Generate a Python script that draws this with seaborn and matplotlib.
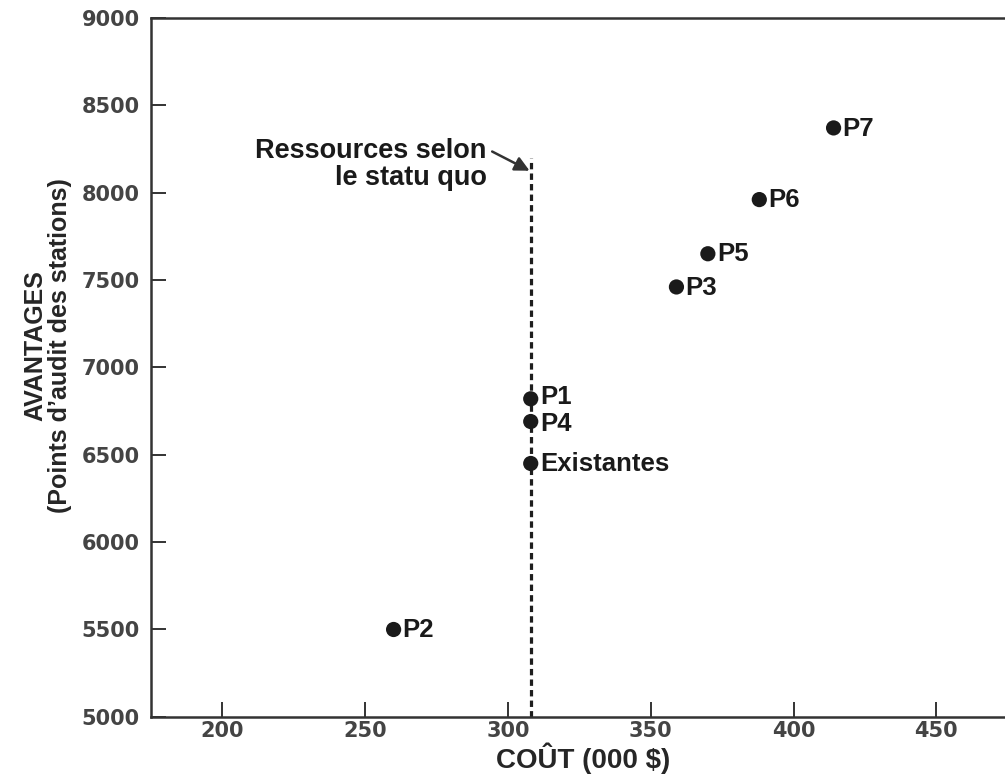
import matplotlib
matplotlib.use("Agg")
import matplotlib.pyplot as plt
import pandas as pd
import seaborn as sns

# data
labels = ["P1", "P2", "P3", "P4", "P5", "P6", "P7", "Existantes"]
cost = [308, 260, 359, 308, 370, 388, 414, 308]
benefit = [6820, 5500, 7460, 6690, 7650, 7960, 8370, 6450]

status_quo_cost = 308
status_quo_top = 8200

x_ticks = [200, 250, 300, 350, 400, 450]
y_ticks = [5000, 5500, 6000, 6500, 7000, 7500, 8000, 8500, 9000]

sns.set_style("ticks")
plt.rcParams['font.family'] = ['Liberation Sans', 'DejaVu Sans']

df = pd.DataFrame({"Cout": cost, "Avantages": benefit, "Label": labels})

fig = plt.figure(figsize=(10.05, 7.75), dpi=100)
ax = fig.add_axes([0.150, 0.075, 0.85, 0.902])

# status quo line
ax.plot([status_quo_cost, status_quo_cost], [5000, status_quo_top],
        color="#1e1e1e", lw=2.3, ls=(0, (2.0, 1.3)), zorder=1)

sns.scatterplot(data=df, x="Cout", y="Avantages", color="#1a1a1a",
                s=120, edgecolor="none", ax=ax, zorder=3)

# small vertical nudges so the close P1 / P4 labels don't collide
nudge = {"P1": 1.5, "P4": -1.5}
for lab, xv, yv in zip(labels, cost, benefit):
    ax.annotate(lab, (xv, yv), xytext=(6.5, nudge.get(lab, 0) - 0.5),
                textcoords="offset points", ha="left", va="center",
                fontsize=18.5, fontweight="bold", color="#1a1a1a")

ax.text(292.5, 8160, "Ressources selon\nle statu quo", ha="right",
        va="center", fontsize=19.5, fontweight="bold", color="#1a1a1a",
        linespacing=1.05)
ax.annotate("", xy=(307.6, 8125), xytext=(294.5, 8235),
            arrowprops=dict(arrowstyle="-|>", color="#333333", lw=1.8,
                            mutation_scale=22, shrinkA=0, shrinkB=0))

ax.set_xlim(175, 474)
ax.set_ylim(5000, 9000)
ax.set_xticks(x_ticks)
ax.set_yticks(y_ticks)
ax.tick_params(direction="in", length=11, width=1.4, colors="#333333")
ax.tick_params(axis="y", pad=8)
ax.tick_params(axis="x", pad=3)
for lab in ax.get_xticklabels() + ax.get_yticklabels():
    lab.set_family(["DejaVu Sans"])
    lab.set_fontsize(15)
    lab.set_fontweight("bold")
    lab.set_color("#444444")

for side in ["left", "top", "bottom"]:
    ax.spines[side].set_linewidth(1.8)
    ax.spines[side].set_color("#333333")
ax.spines["right"].set_visible(False)

ax.set_xlabel("COÛT (000 $)", fontsize=20, fontweight="bold")
ax.set_ylabel("AVANTAGES\n(Points d’audit des stations)", fontsize=18,
              fontweight="bold", linespacing=1.05)
ax.xaxis.set_label_coords(0.506, -0.036)
ax.yaxis.set_label_coords(-0.092, 0.531)

fig.savefig("out.png", dpi=100)
